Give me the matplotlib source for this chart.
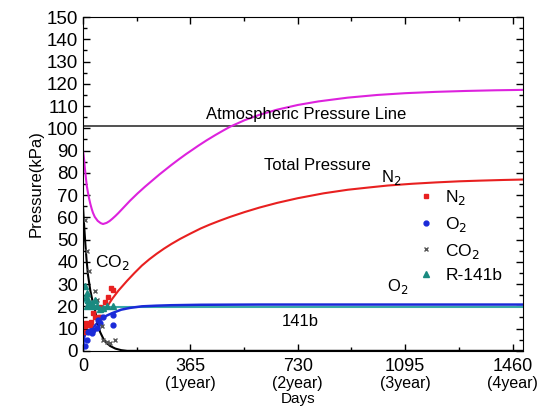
import numpy as np
import matplotlib
matplotlib.use('Agg')
import matplotlib.pyplot as plt
from matplotlib.ticker import MultipleLocator, FixedLocator

plt.rcParams['font.family'] = ['Liberation Sans', 'DejaVu Sans']

###############################################################################
# Data (days, kPa)
total_days = [0, 2, 4, 6, 8, 10, 13, 17, 21, 25, 30, 34, 40, 50, 60, 68, 80, 90, 100, 110,
              120, 140, 160, 185, 211, 235, 260, 280, 300, 325, 350, 370, 392, 420,
              450, 475, 501, 550, 600, 660, 730, 800, 900, 1000, 1095, 1200, 1300, 1400, 1500]
total_p = [90, 88, 85.5, 82.5, 80, 77.5, 74, 71, 68.3, 66, 63.6, 62, 60.2, 58.4, 57.4, 57,
           57.5, 58.3, 59.4, 60.6, 61.9, 64.7, 67.5, 70.7, 73.8, 76.5, 79.3, 81.4, 83.5, 86,
           88.4, 90.2, 92.2, 94.6, 97, 98.9, 100.8, 103.7, 106.1, 108.4, 110.5, 112.1, 113.8,
           115, 115.8, 116.4, 116.8, 117.1, 117.3]

n2_days = [75, 90, 100, 120, 150, 175, 200, 225, 250, 275, 300, 330, 365, 400, 430, 465,
           500, 550, 600, 660, 730, 818, 900, 970, 1036, 1120, 1200, 1280, 1350, 1430, 1500]
n2_p = [18.5, 21.5, 23.5, 27, 31.5, 35, 38.3, 41.1, 43.6, 45.9, 48, 50.3, 52.7, 55, 56.7,
        58.5, 60.2, 62.4, 64.4, 66.5, 68.6, 70.8, 72.4, 73.4, 74.3, 75.1, 75.7, 76.2,
        76.5, 76.8, 77]

o2_days = [0, 2, 5, 10, 20, 30, 45, 60, 80, 100, 130, 160, 200, 250, 300, 400, 600, 900, 1500]
o2_p = [0, 4, 6.5, 8, 9.2, 10, 12, 14, 15.8, 17, 18.5, 19.3, 20, 20.3, 20.5, 20.7, 20.8, 20.8, 20.8]

co2_days = [0, 3, 8, 12, 17, 25, 33, 41, 50, 58, 70, 80, 92, 110, 130, 150, 1500]
co2_p = [65, 58, 48, 41, 34, 27, 22, 18, 12.5, 8.5, 5.2, 3.6, 2.2, 1, 0.3, 0, 0]

r141b_days = [0, 5, 10, 20, 35, 50, 70, 100, 150, 1500]
r141b_p = [24, 22.5, 21.5, 20.5, 20, 19.8, 19.7, 19.7, 19.7, 19.7]

atm_p = 101

# measured points
n2_pt_days = [3, 7, 10, 24, 28, 34, 41, 55, 58, 58, 75, 85, 96, 102]
n2_pt_p = [8.5, 11, 12.5, 11.7, 13, 17, 15, 15, 19.5, 15, 22, 24, 28.3, 27.4]
o2_pt_days = [7, 14, 17, 30, 34, 48, 51, 58, 68, 102, 102]
o2_pt_p = [2, 5, 8.5, 8, 9.4, 10.3, 14, 12.5, 15, 16, 11.7]
co2_pt_days = [7, 14, 17, 20, 41, 48, 65, 68, 82, 92, 109]
co2_pt_p = [59, 45, 25, 36, 27, 23, 11, 5, 4, 3.6, 5]
r141b_pt_days = [7, 10, 12, 14, 17, 24, 30, 34, 41, 48, 58, 68, 82, 102]
r141b_pt_p = [29, 24, 20, 26, 23, 20.6, 21.5, 20, 23, 20, 19, 19.3, 20, 20]

xticks = [0, 365, 730, 1095, 1460]
year_labels = ['', '(1year)', '(2year)', '(3year)', '(4year)']

###############################################################################
# Plot
fig = plt.figure(figsize=(5.39, 4.07), dpi=100)
ax = fig.add_axes([0.154, 0.138, 0.816, 0.82])

ax.axhline(atm_p, color='#333333', lw=1.2)
ax.plot(total_days, total_p, color='#dd22dd', lw=1.5)
ax.plot(n2_days, n2_p, color='#e82020', lw=1.5)
ax.plot(r141b_days, r141b_p, color='#3aaaa8', lw=1.5)
ax.plot(o2_days, o2_p, color='#1a2ad8', lw=1.8)
ax.plot(co2_days, co2_p, color='black', lw=1.5)

ax.plot(n2_pt_days, n2_pt_p, 's', color='#e82020', ms=3.5, ls='none', label='N$_2$')
ax.plot(o2_pt_days, o2_pt_p, 'o', color='#1a2ad8', ms=3.5, ls='none', label='O$_2$')
ax.plot(co2_pt_days, co2_pt_p, 'x', color='#555555', ms=3.5, mew=1, ls='none', label='CO$_2$')
ax.plot(r141b_pt_days, r141b_pt_p, '^', color='#1a8a80', ms=4, ls='none', label='R-141b')

ax.set_xlim(0, 1495)
ax.set_ylim(0, 150)
ax.xaxis.set_major_locator(FixedLocator(xticks))
ax.xaxis.set_minor_locator(FixedLocator([182.5, 547.5, 912.5, 1277.5]))
ax.yaxis.set_major_locator(MultipleLocator(10))
ax.yaxis.set_minor_locator(MultipleLocator(5))
ax.tick_params(which='both', direction='in', top=True, right=True, labelsize=13.5)
ax.tick_params(which='major', length=5, width=1)
ax.tick_params(which='minor', length=3, width=1)
ax.tick_params(axis='x', pad=5, labelsize=13)
ax.set_xticklabels([str(t) for t in xticks])
for t, lab in zip(xticks, year_labels):
    ax.text(t, -0.074, lab, transform=ax.get_xaxis_transform(), ha='center', va='top', fontsize=11.5)
ax.text(730, -0.124, 'Days', transform=ax.get_xaxis_transform(), ha='center', va='top', fontsize=11)
ax.set_ylabel('Pressure(kPa)', fontsize=12, labelpad=2)

ax.text(757, 106, 'Atmospheric Pressure Line', ha='center', va='center', fontsize=12)
ax.text(798, 83.5, 'Total Pressure', ha='center', va='center', fontsize=12)
ax.text(1047, 78, 'N$_2$', ha='center', va='center', fontsize=12)
ax.text(1071, 29, 'O$_2$', ha='center', va='center', fontsize=12)
ax.text(740, 13, '141b', ha='center', va='center', fontsize=12)
ax.text(40, 39.5, 'CO$_2$', ha='left', va='center', fontsize=12.5)

ax.legend(loc='upper left', bbox_to_anchor=(0.725, 0.535), frameon=False, fontsize=12.5,
          handlelength=1, handletextpad=0.6, labelspacing=0.45, markerscale=1)

plt.savefig('out.png', dpi=100)
